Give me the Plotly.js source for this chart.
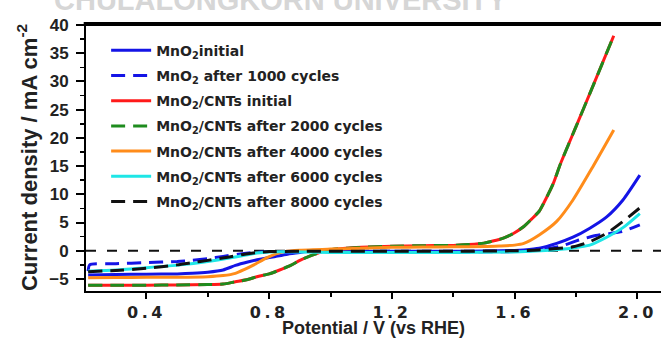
<!DOCTYPE html>
<html>
<head>
<meta charset="utf-8">
<script src="https://cdn.plot.ly/plotly-3.0.1.min.js"></script>
<style>
html,body{margin:0;padding:0;background:#fff;}
#chart{width:661px;height:338px;}
.xtick text{letter-spacing:3.5px;}
</style>
</head>
<body>
<div id="chart"></div>
<script>
// ---- data ----
var seriesNames = [
  "MnO<sub>2</sub>initial",
  "MnO<sub>2</sub> after 1000 cycles",
  "MnO<sub>2</sub>/CNTs initial",
  "MnO<sub>2</sub>/CNTs after 2000 cycles",
  "MnO<sub>2</sub>/CNTs after 4000 cycles",
  "MnO<sub>2</sub>/CNTs after 6000 cycles",
  "MnO<sub>2</sub>/CNTs after 8000 cycles"
];

var mno2InitialX = [0.21,0.3,0.4,0.5,0.55,0.6,0.65,0.69,0.73,0.77,0.82,0.86,0.9,0.93,1.0,1.2,1.4,1.5,1.6,1.63,1.68,1.737,1.79,1.845,1.9,1.953,2.008];
var mno2InitialY = [-4.3,-4.2,-4.15,-4.1,-4.0,-3.8,-3.4,-2.6,-2.0,-1.5,-1.0,-0.6,-0.3,-0.1,-0.05,-0.1,-0.1,-0.05,0.05,0.15,0.45,1.3,2.4,4.0,6.0,9.0,13.4];

var mno2Cyc1000X = [0.21,0.215,0.3,0.4,0.5,0.55,0.6,0.65,0.7,0.75,0.8,0.9,1.0,1.2,1.4,1.6,1.65,1.7,1.75,1.81,1.865,1.905,1.95,2.008];
var mno2Cyc1000Y = [-3.6,-2.5,-2.3,-2.1,-1.9,-1.7,-1.4,-1.0,-0.6,-0.3,-0.15,-0.1,-0.1,-0.15,-0.2,-0.15,0.0,0.3,0.8,1.9,2.7,3.0,3.4,4.6];

var cntInitialX = [0.21,0.3,0.4,0.5,0.6,0.65,0.69,0.73,0.76,0.8,0.83,0.87,0.9,0.93,0.955,0.98,1.0,1.05,1.1,1.2,1.3,1.4,1.45,1.5,1.52,1.55,1.575,1.6,1.63,1.655,1.68,1.7,1.725,1.75,1.8,1.85,1.923];
var cntInitialY = [-6.1,-6.1,-6.1,-6.05,-6.0,-5.9,-5.5,-5.1,-4.6,-4.1,-3.5,-2.6,-1.7,-1.0,-0.5,-0.05,0.2,0.45,0.6,0.8,0.9,0.95,1.1,1.35,1.6,2.0,2.5,3.2,4.3,5.6,7.0,9.0,11.8,15.5,22.0,28.5,38.1];

var cntCyc2000X = [0.21,0.3,0.4,0.5,0.6,0.65,0.69,0.73,0.76,0.8,0.83,0.87,0.9,0.93,0.955,0.98,1.0,1.05,1.1,1.2,1.3,1.4,1.45,1.5,1.52,1.55,1.575,1.6,1.63,1.655,1.68,1.7,1.725,1.75,1.8,1.85,1.923];
var cntCyc2000Y = [-6.1,-6.1,-6.1,-6.05,-6.0,-5.9,-5.5,-5.1,-4.6,-4.1,-3.5,-2.6,-1.7,-1.0,-0.5,-0.05,0.2,0.45,0.6,0.8,0.9,0.95,1.1,1.35,1.6,2.0,2.5,3.2,4.3,5.6,7.0,9.0,11.8,15.5,22.0,28.5,38.1];

var cntCyc4000X = [0.21,0.3,0.4,0.5,0.6,0.65,0.69,0.72,0.75,0.79,0.82,0.85,0.9,1.0,1.1,1.2,1.3,1.4,1.5,1.55,1.6,1.63,1.68,1.737,1.79,1.855,1.923];
var cntCyc4000Y = [-4.8,-4.75,-4.7,-4.7,-4.6,-4.4,-4.0,-3.3,-2.5,-1.3,-0.6,-0.15,0.1,0.3,0.45,0.6,0.65,0.7,0.75,0.85,1.0,1.3,2.8,5.2,9.0,14.9,21.4];

var cntCyc6000X = [0.21,0.3,0.4,0.51,0.6,0.67,0.72,0.76,0.8,0.9,1.0,1.2,1.4,1.6,1.7,1.79,1.845,1.9,1.953,2.008];
var cntCyc6000Y = [-3.6,-3.4,-3.0,-2.5,-1.9,-1.3,-0.8,-0.4,-0.2,-0.2,-0.3,-0.3,-0.3,-0.2,0.05,0.5,1.0,2.4,4.1,6.6];

var cntCyc8000X = [0.21,0.3,0.4,0.5,0.55,0.6,0.67,0.72,0.76,0.8,0.9,1.0,1.2,1.4,1.6,1.68,1.79,1.845,1.9,1.953,2.008];
var cntCyc8000Y = [-3.7,-3.5,-3.1,-2.5,-2.1,-1.7,-1.1,-0.6,-0.3,-0.15,-0.1,-0.1,-0.1,-0.1,0.0,0.15,0.7,1.6,3.1,5.2,7.6];

var xTickVals = [0.4,0.8,1.2,1.6,2.0];
var xTickText = ["0.4","0.8","1.2","1.6","2.0"];
var yTickVals = [-5,0,5,10,15,20,25,30,35,40];

// ---- styling ----
var colors = ["#1414e6","#1414e6","#ff1a1a","#1e8c1e","#ff8c1a","#1ee6e6","#111111"];
var dashes = ["solid","14px,8px","solid","14px,8px","solid","solid","14px,8px"];

var xs = [mno2InitialX,mno2Cyc1000X,cntInitialX,cntCyc2000X,cntCyc4000X,cntCyc6000X,cntCyc8000X];
var ys = [mno2InitialY,mno2Cyc1000Y,cntInitialY,cntCyc2000Y,cntCyc4000Y,cntCyc6000Y,cntCyc8000Y];

var traces = xs.map(function(x,i){
  return {
    x: x, y: ys[i], type: "scatter", mode: "lines",
    name: seriesNames[i], legendgroup: "g"+i,
    line: {color: colors[i], width: 3, dash: dashes[i], shape: "spline", smoothing: 0.6},
    hoverinfo: "skip"
  };
});

var narrow = "Liberation Sans Narrow, Arial Narrow, Liberation Sans, sans-serif";

var layout = {
  width: 661, height: 338,
  margin: {l: 86, r: 0, t: 24, b: 47, pad: 0},
  paper_bgcolor: "#fff", plot_bgcolor: "#fff",
  showlegend: true,
  legend: {
    x: 0.035, y: 0.96, xanchor: "left", yanchor: "top",
    bgcolor: "rgba(0,0,0,0)", borderwidth: 0,
    font: {family: "DejaVu Sans, sans-serif", size: 14, color: "#222", weight: "bold"},
    tracegroupgap: 4, itemwidth: 40
  },
  xaxis: {
    range: [0.203, 2.077], showgrid: false, zeroline: false,
    showline: true, linecolor: "#000", linewidth: 2,
    ticks: "outside", ticklen: 6, tickwidth: 2, tickcolor: "#000",
    tickvals: xTickVals, ticktext: xTickText,
    tickfont: {family: "DejaVu Sans, sans-serif", size: 16, color: "#222", weight: "bold"},
    minor: {dtick: 0.2, tick0: 0.2, ticks: "outside", ticklen: 4, tickwidth: 2, tickcolor: "#000"},
    title: {text: "Potential / V (vs RHE)", standoff: 3,
      font: {family: narrow, size: 18, color: "#222", weight: "bold"}}
  },
  yaxis: {
    range: [-7.13, 40.18], showgrid: false, zeroline: false,
    showline: true, linecolor: "#000", linewidth: 2,
    ticks: "outside", ticklen: 8, tickwidth: 2, tickcolor: "#000",
    tickvals: yTickVals, ticklabelstandoff: 4,
    tickfont: {family: "Liberation Sans, Arial, sans-serif", size: 17, color: "#222", weight: "bold"},
    minor: {dtick: 2.5, tick0: 0, ticks: "outside", ticklen: 4, tickwidth: 1.5, tickcolor: "#000"},
    title: {text: "Current density / mA cm<sup>-2</sup>", standoff: 6,
      font: {family: narrow, size: 22, color: "#222", weight: "bold"}}
  },
  shapes: [
    {type: "line", xref: "paper", yref: "y", x0: 0, x1: 1, y0: 0, y1: 0,
     line: {color: "#111", width: 2, dash: "10px,11px"}, layer: "below"},
    {type: "line", xref: "paper", yref: "paper", x0: -0.004, x1: 1, y0: 1, y1: 1,
     line: {color: "#000", width: 4}}
  ],
  annotations: [
    {text: "CHULALONGKORN UNIVERSITY", xref: "paper", yref: "paper",
     x: (280 - 86) / 575, y: 1.09, xanchor: "center", yanchor: "middle", showarrow: false,
     font: {family: "Liberation Sans, Arial, sans-serif", size: 29, color: "#d6d6d6", weight: "bold"}}
  ]
};

Plotly.newPlot("chart", traces, layout, {staticPlot: true, displayModeBar: false});
</script>
</body>
</html>
